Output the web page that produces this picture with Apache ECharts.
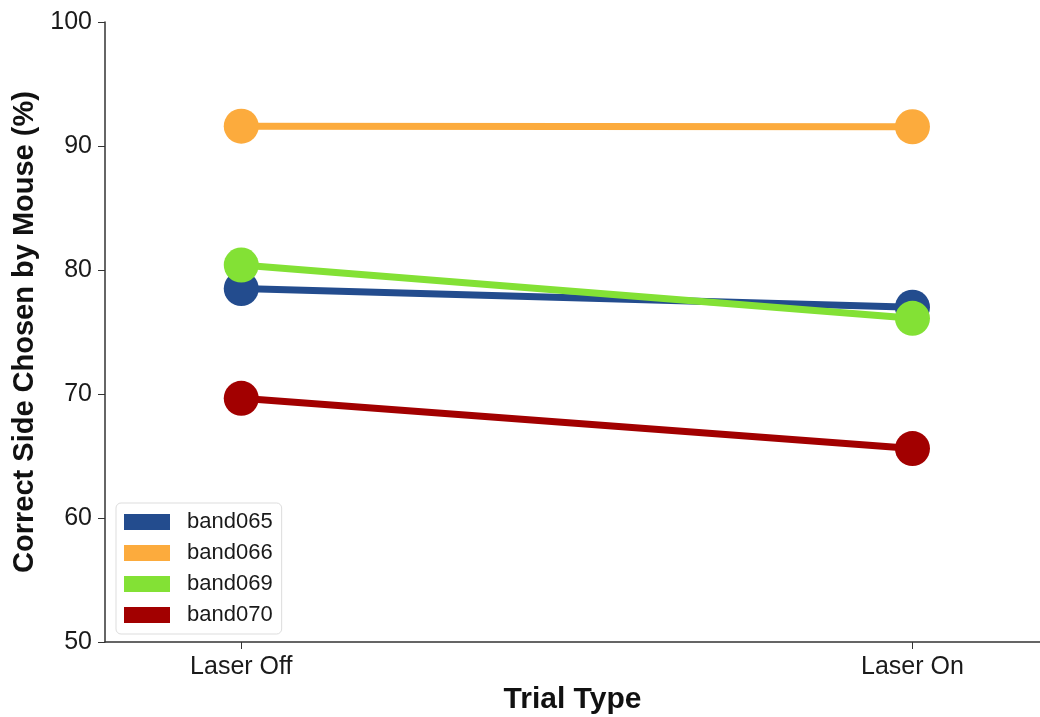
<!DOCTYPE html>
<html>
<head>
<meta charset="utf-8">
<script src="https://cdn.jsdelivr.net/npm/echarts@6/dist/echarts.min.js"></script>
<style>html,body{margin:0;padding:0;background:#fff}#c{width:1040px;height:717px}</style>
</head>
<body>
<div id="c"></div>
<script>
const categories = ['Laser Off', 'Laser On'];
const seriesNames = ['band065', 'band066', 'band069', 'band070'];
const band065 = [78.5, 77.0];
const band066 = [91.6, 91.55];
const band069 = [80.4, 76.1];
const band070 = [69.65, 65.6];
const yTicks = [50, 60, 70, 80, 90, 100];
const colors = ['#234c8e', '#fcab3d', '#83e135', '#a20000'];

const values = [band065, band066, band069, band070];
const font = 'Liberation Sans, Arial, Helvetica, sans-serif';
const chart = echarts.init(document.getElementById('c'), null, {renderer: 'canvas'});
chart.setOption({
  animation: false,
  backgroundColor: '#fff',
  grid: {left: 105, right: 0, top: 22, bottom: 75, outerBoundsMode: 'none', containLabel: false},
  legend: {
    orient: 'vertical', left: 116, top: 503,
    data: seriesNames,
    icon: 'rect', itemWidth: 46, itemHeight: 16, itemGap: 9,
    padding: [8, 9, 8, 8],
    borderColor: '#dddddd', borderWidth: 1, borderRadius: 5,
    textStyle: {fontFamily: font, fontSize: 22, color: '#1a1a1a', padding: [0, 0, 0, 12]}
  },
  xAxis: {
    type: 'value', min: -0.203, max: 1.19,
    name: 'Trial Type', nameLocation: 'middle', nameGap: 43,
    nameTextStyle: {fontFamily: font, fontSize: 30, fontWeight: 'bold', color: '#111'},
    axisLine: {onZero: false, lineStyle: {color: '#333', width: 1.5}},
    axisTick: {show: true, length: 7, lineStyle: {color: '#333'}, customValues: [0, 1]},
    axisLabel: {customValues: [0, 1], formatter: v => categories[Math.round(v)],
      fontFamily: font, fontSize: 25, color: '#1a1a1a', margin: 13},
    splitLine: {show: false}
  },
  yAxis: {
    type: 'value', min: 50, max: 100, interval: 10,
    name: 'Correct Side Chosen by Mouse (%)', nameLocation: 'middle', nameGap: 63, nameRotate: 90,
    nameTextStyle: {fontFamily: font, fontSize: 29, fontWeight: 'bold', color: '#111'},
    axisLine: {show: true, onZero: false, lineStyle: {color: '#333', width: 1.5}},
    axisTick: {show: true, length: 7, lineStyle: {color: '#333'}},
    axisLabel: {fontFamily: font, fontSize: 25, color: '#1a1a1a', margin: 13,
      formatter: v => yTicks.includes(v) ? String(v) : ''},
    splitLine: {show: false}
  },
  series: seriesNames.map((n, i) => ({
    name: n, type: 'line',
    data: values[i].map((v, j) => [j, v]),
    symbol: 'circle', symbolSize: 35,
    lineStyle: {color: colors[i], width: 7},
    itemStyle: {color: colors[i]},
    z: 2 + i
  }))
});
</script>
</body>
</html>
